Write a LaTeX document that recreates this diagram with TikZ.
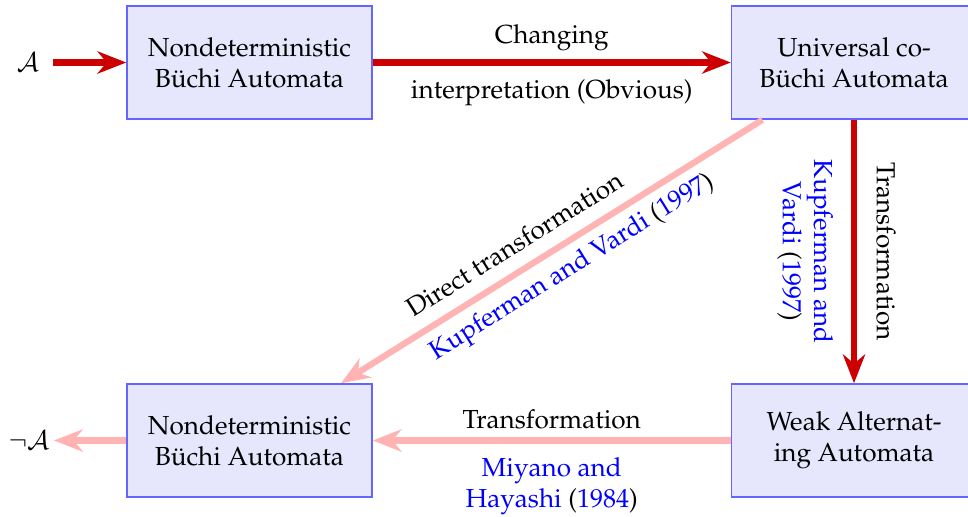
\documentclass[tikz,border=0pt]{standalone}
\usepackage[T1]{fontenc}
\usepackage{mathpazo}
\usetikzlibrary{arrows.meta}

\definecolor{darkred}{RGB}{204,0,0}
\definecolor{softred}{RGB}{255,179,179}
\definecolor{boxfill}{RGB}{230,230,252}
\definecolor{boxline}{RGB}{100,100,255}
\definecolor{citeblue}{RGB}{0,0,255}

% author-year citations: names and year linked (blue), parentheses plain
\newcommand{\citeKV}{\textcolor{citeblue}{Kupferman and Vardi} (\textcolor{citeblue}{1997})}
\newcommand{\citeKVsplit}{\textcolor{citeblue}{Kupferman and}\\\textcolor{citeblue}{Vardi} (\textcolor{citeblue}{1997})}
\newcommand{\citeMH}{\textcolor{citeblue}{Miyano and}\\\textcolor{citeblue}{Hayashi} (\textcolor{citeblue}{1984})}

\begin{document}
\begin{tikzpicture}[x=0.383pt, y=-0.383pt,
  automaton/.style={draw=boxline, fill=boxfill, line width=0.6pt,
    minimum width=93.8pt, minimum height=43.3pt, align=center, inner sep=0pt},
  tip/.style={-{Stealth[length=11pt, width=8.5pt, inset=3.5pt]}},
  hard/.style={draw=darkred, line width=2.4pt, tip},
  soft/.style={draw=softred, line width=2.4pt, tip},
  lbl/.style={align=center}]
\useasboundingbox (0,0) rectangle (968,516);
\clip (0,0) rectangle (968,516);

% the four automata
\node[automaton] (nba)  at (249.5,62.5)  {Nondeterministic\\B\"uchi Automata};
\node[automaton] (ucba) at (854,62.5)    {Universal co-\\B\"uchi Automata};
\node[automaton] (waa)  at (854,440.5)   {Weak Alternat-\\ing Automata};
\node[automaton] (nbac) at (249.5,440.5) {Nondeterministic\\B\"uchi Automata};

% input and complemented output
\node[inner sep=5pt]   (in)  at (28,62.5)  {$\mathcal{A}$};
\node[inner sep=1.5pt] (out) at (29,440.5) {$\neg\mathcal{A}$};

\draw[hard] (in) -- (nba);

\draw[hard] (nba) --
  node[lbl, above=0pt] (l1) {Changing}
  node[lbl, below=2pt] (l2) {interpretation (Obvious)} (ucba);

\draw[hard] (ucba) --
  node[midway, xshift=4pt, rotate=-90, anchor=south] (l3) {Transformation}
  node[midway, xshift=-3.5pt, rotate=-90, anchor=north, align=center] (l4) {\citeKVsplit} (waa);

\draw[soft] (ucba) --
  node[pos=0.556, sloped, above=1.8pt] (l5) {Direct transformation}
  node[pos=0.482, sloped, below=0pt] (l6) {\citeKV} (nbac);

\draw[soft] (waa) --
  node[lbl, above=0pt] (l7) {Transformation}
  node[lbl, below=2pt] (l8) {\citeMH} (nbac);

\draw[soft] (nbac) -- (out);
\end{tikzpicture}
\end{document}
